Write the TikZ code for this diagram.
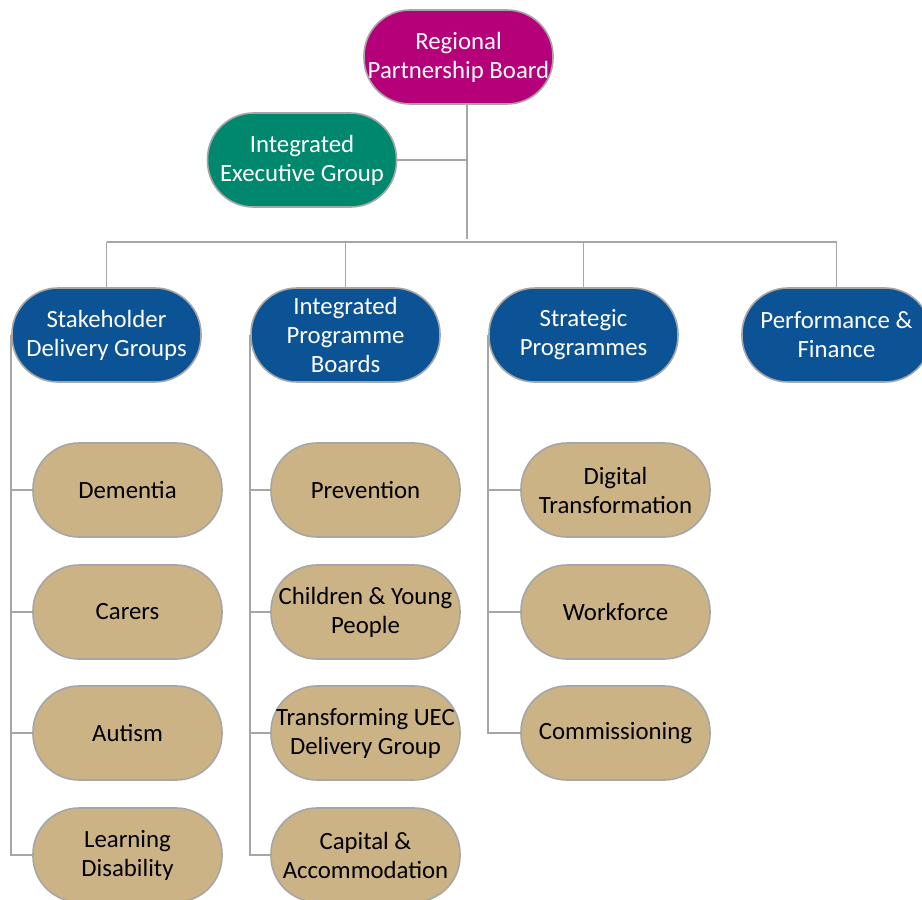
\documentclass[tikz,border=0pt]{standalone}
\usepackage{fontspec}
\setmainfont{Carlito}
\definecolor{rpbc}{HTML}{B5007A}
\definecolor{iegc}{HTML}{00886E}
\definecolor{bluec}{HTML}{0B5395}
\definecolor{tanc}{HTML}{CBB385}
\definecolor{edgec}{HTML}{A6A6A6}
\begin{document}
\begin{tikzpicture}[x=1pt,y=-1pt,
  box/.style={draw=edgec,line width=1.6pt,rounded corners=46pt,minimum width=189pt,minimum height=94pt,inner sep=0pt,align=center,font=\fontsize{24.8}{29}\selectfont},
  topbox/.style={box,text=white},
  subbox/.style={box,fill=tanc,text=black},
  conn/.style={draw=edgec,line width=1.9pt}]
\useasboundingbox (0,0) rectangle (922,900);
\clip (0,0) rectangle (922,900);
\fill[white] (0,0) rectangle (922,900);
% nodes
\node[topbox,fill=rpbc] (rpb) at (458.5,57) {Regional\\Partnership Board};
\node[topbox,fill=iegc] (ieg) at (302,160) {Integrated\\Executive Group};
\node[topbox,fill=bluec] (sdg) at (106.5,335) {Stakeholder\\Delivery Groups};
\node[topbox,fill=bluec] (ipb) at (345.5,335) {Integrated\\Programme\\Boards};
\node[topbox,fill=bluec] (sp) at (583.5,335) {Strategic\\Programmes};
\node[topbox,fill=bluec] (pf) at (836.5,335) {Performance \&\\Finance};
\node[subbox] (dem) at (127.5,490) {Dementia};
\node[subbox] (car) at (127.5,612) {Carers};
\node[subbox] (aut) at (127.5,733) {Autism};
\node[subbox] (ld) at (127.5,855) {Learning\\Disability};
\node[subbox] (prev) at (365.5,490) {Prevention};
\node[subbox] (cyp) at (365.5,612) {Children \& Young\\People};
\node[subbox] (uec) at (365.5,733) {Transforming UEC\\Delivery Group};
\node[subbox] (cap) at (365.5,855) {Capital \&\\Accommodation};
\node[subbox] (dig) at (615.5,490) {Digital\\Transformation};
\node[subbox] (wf) at (615.5,612) {Workforce};
\node[subbox] (com) at (615.5,733) {Commissioning};
% connectors
\coordinate (j) at (467,239);
\coordinate (bus) at (467,242);
\draw[conn] (rpb.south -| j) -- (j);
\draw[conn] (ieg.east) -- (ieg.east -| j);
\draw[conn] (sdg.north |- bus) -- (pf.north |- bus);
\foreach \n in {sdg,ipb,sp,pf} \draw[conn] (\n.north |- bus) -- (\n.north);
\draw[conn] (sdg.west) -- (sdg.west |- ld) -- (ld.west);
\foreach \n in {dem,car,aut} \draw[conn] (sdg.west |- \n) -- (\n.west);
\draw[conn] (ipb.west) -- (ipb.west |- cap) -- (cap.west);
\foreach \n in {prev,cyp,uec} \draw[conn] (ipb.west |- \n) -- (\n.west);
\draw[conn] (sp.west) -- (sp.west |- com) -- (com.west);
\foreach \n in {dig,wf} \draw[conn] (sp.west |- \n) -- (\n.west);
\end{tikzpicture}
\end{document}
